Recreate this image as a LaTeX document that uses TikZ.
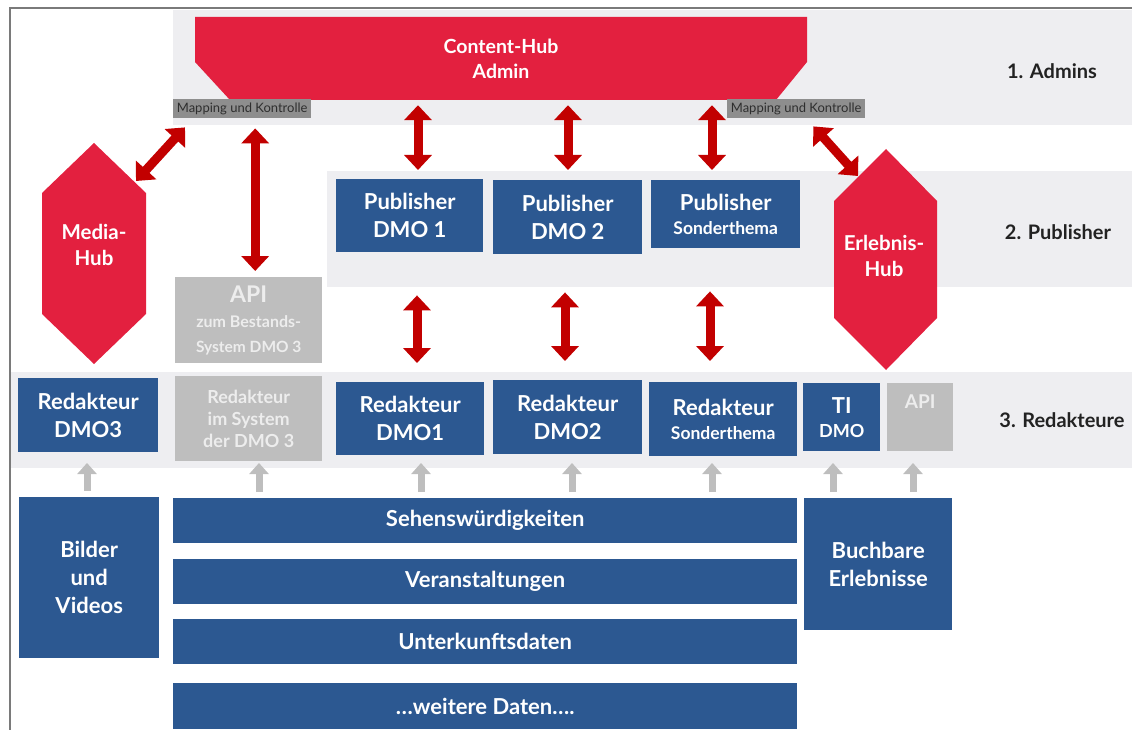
\documentclass[tikz,border=0pt]{standalone}
\usepackage{fontspec}
\setmainfont{Lato}
\usetikzlibrary{arrows.meta,calc}
\definecolor{hubred}{HTML}{E3203F}
\definecolor{arrred}{HTML}{C20000}
\definecolor{dmoblue}{HTML}{2C5891}
\definecolor{bandgrey}{HTML}{EEEEF1}
\definecolor{boxgrey}{HTML}{BEBEBE}
\definecolor{greytext}{HTML}{EDEDED}
\definecolor{mapgrey}{HTML}{8E8E8E}
\definecolor{maptext}{HTML}{2E2E2E}
\definecolor{framegrey}{HTML}{7A7A7A}
\definecolor{tiertext}{HTML}{222222}
\tikzset{
  wh/.style 2 args={minimum width=#1, minimum height=#2},
  box/.style={anchor=north west, inner sep=0pt, align=center, text=white,
    font=\bfseries\fontsize{22}{28}\selectfont},
  bluebox/.style={box, fill=dmoblue},
  greybox/.style={box, fill=boxgrey, text=greytext},
  bandbox/.style={anchor=north west, fill=bandgrey, inner sep=0pt},
  maplabel/.style={anchor=north west, fill=mapgrey, inner sep=0pt, text=maptext,
    font=\fontsize{13}{14}\selectfont},
  tier/.style={text=tiertext, inner sep=0pt, font=\bfseries\fontsize{20}{22}\selectfont},
  hubtext/.style={text=white, inner sep=0pt, align=center,
    font=\bfseries\fontsize{19.5}{25}\selectfont},
  redarr/.style={draw=arrred, line width=9pt,
    {Triangle[width=27pt,length=15pt]}-{Triangle[width=27pt,length=15pt]}},
  greyarr/.style={draw=boxgrey, line width=7pt, -{Triangle[width=19pt,length=11pt]}}
}
\begin{document}
\begin{tikzpicture}[x=1pt,y=-1pt]
\useasboundingbox (0,0) rectangle (1132,730);

% outer frame (left and top edges)
\draw[framegrey, line width=1.6pt] (10,730) -- (10,8) -- (1132,8);

% tier bands
\node[bandbox, wh={959}{115}] (band1) at (173,10) {};
\node[bandbox, wh={805}{116}] (band2) at (327,171) {};
\node[bandbox, wh={1121}{96}] (band3) at (11,372) {};

% tier captions
\node[tier] (tier1) at (1052,71) {1. Admins};
\node[tier] (tier2) at (1058,232) {2. Publisher};
\node[tier] (tier3) at (1062,420) {3. Redakteure};

% Content-Hub
\fill[hubred] (195,17) -- (807,17) -- (807,62) -- (776,100) -- (230,100) -- (195,62) -- cycle;
\node[hubtext, wh={612}{83}] (hub) at (501,58.5) {Content-Hub\\Admin};

% mapping labels
\node[maplabel, wh={138}{19}] (map1) at (173,99) {Mapping und Kontrolle};
\node[maplabel, wh={138}{19}] (map2) at (727,99) {Mapping und Kontrolle};

% hubs on the sides
\fill[hubred] (94,143) -- (146,193) -- (146,314) -- (94,364) -- (42,314) -- (42,193) -- cycle;
\node[hubtext, font=\bfseries\fontsize{20.5}{26}\selectfont] (mediahub) at (94,245) {Media-\\Hub};
\fill[hubred] (886,149) -- (937,201) -- (937,318) -- (886,370) -- (834,318) -- (834,201) -- cycle;
\node[hubtext, font=\bfseries\fontsize{20.5}{26}\selectfont] (erlebnishub) at (884,256) {Erlebnis-\\Hub};

% publishers
\node[bluebox, wh={147}{73}] (pub1) at (336,179) {Publisher\\DMO 1};
\node[bluebox, wh={149}{74}] (pub2) at (493,180) {Publisher\\DMO 2};
\node[bluebox, wh={149}{68}] (pub3) at (651,180) {Publisher\\[-4pt]{\fontsize{17.5}{20}\selectfont Sonderthema}};

% API to the existing system
\node[greybox, wh={147}{86}] (api3) at (175,277)
  {{\fontsize{23}{26}\selectfont API}\\[-3pt]{\fontsize{16}{18}\selectfont zum Bestands-}\\[-3pt]{\fontsize{15.5}{18}\selectfont System DMO 3}};

% editors
\node[bluebox, wh={140}{74}] (red3) at (18,378) {Redakteur\\DMO3};
\node[greybox, wh={147}{85}, font=\bfseries\fontsize{18}{22}\selectfont] (redsys) at (175,376) {Redakteur\\im System\\der DMO 3};
\node[bluebox, wh={148}{73}] (red1) at (336,382) {Redakteur\\DMO1};
\node[bluebox, wh={149}{74}] (red2) at (493,380) {Redakteur\\DMO2};
\node[bluebox, wh={148}{74}] (redS) at (649,382) {Redakteur\\[-4pt]{\fontsize{17.5}{20}\selectfont Sonderthema}};
\node[bluebox, wh={77}{68}] (ti) at (803,383) {TI\\[-4pt]{\fontsize{18}{20}\selectfont DMO}};
\node[greybox, wh={66}{68}] (apiR) at (887,383) {};
\node[text=greytext, inner sep=0pt, font=\bfseries\fontsize{19}{20}\selectfont] (apiRtext) at ($(apiR.north)+(0,19)$) {API};

% data sources
\node[bluebox, wh={140}{161}] (bilder) at (19,497) {Bilder\\und\\Videos};
\node[bluebox, wh={624}{45}] (sehens) at (173,498) {Sehenswürdigkeiten};
\node[bluebox, wh={624}{45}] (veran) at (173,559) {Veranstaltungen};
\node[bluebox, wh={624}{45}] (unterk) at (173,619) {Unterkunftsdaten};
\node[bluebox, wh={624}{46}] (weitere) at (173,683) {…weitere Daten….};
\node[bluebox, wh={148}{132}] (buchbare) at (804,498) {Buchbare\\Erlebnisse};

% arrow columns and rows
\coordinate (c1) at (418,0);
\coordinate (c2) at (568,0);
\coordinate (c3) at (712,0);
\coordinate (d1) at (417,0);
\coordinate (d2) at (565,0);
\coordinate (d3) at (710,0);
\coordinate (uptop) at (0,463);
\coordinate (mh-ne) at (136,181);
\coordinate (eh-nw) at (858,176);

% Content-Hub <-> publishers
\draw[redarr, shorten <=5pt, shorten >=9pt] (c1 |- hub.south) -- (c1 |- pub1.north);
\draw[redarr, shorten <=5pt, shorten >=10pt] (c2 |- hub.south) -- (c2 |- pub2.north);
\draw[redarr, shorten <=5pt, shorten >=10pt] (c3 |- hub.south) -- (c3 |- pub3.north);

% publishers <-> editors
\draw[redarr, shorten <=8pt, shorten >=19pt] (d1 |- band2.south) -- (d1 |- red1.north);
\draw[redarr, shorten <=5pt, shorten >=19pt] (d2 |- band2.south) -- (d2 |- red2.north);
\draw[redarr, shorten <=4pt, shorten >=21pt] (d3 |- band2.south) -- (d3 |- redS.north);

% mapping <-> hubs and API
\draw[redarr] ($(map1.south west)+(12,9)$) -- (mh-ne);
\draw[redarr] ($(map2.south east)+(-52,8)$) -- (eh-nw);
\draw[redarr] ($(map1.south)+(13,10)$) -- ($(api3.north)+(6.5,-6)$);

% data sources -> editors
\foreach \cx/\src in {87/bilder, 259/sehens, 421/sehens, 572/sehens, 712/sehens, 833/buchbare, 913/buchbare}
  \draw[greyarr, shorten <=6pt] (\cx,0 |- \src.north) -- (\cx,0 |- uptop);
\end{tikzpicture}
\end{document}
